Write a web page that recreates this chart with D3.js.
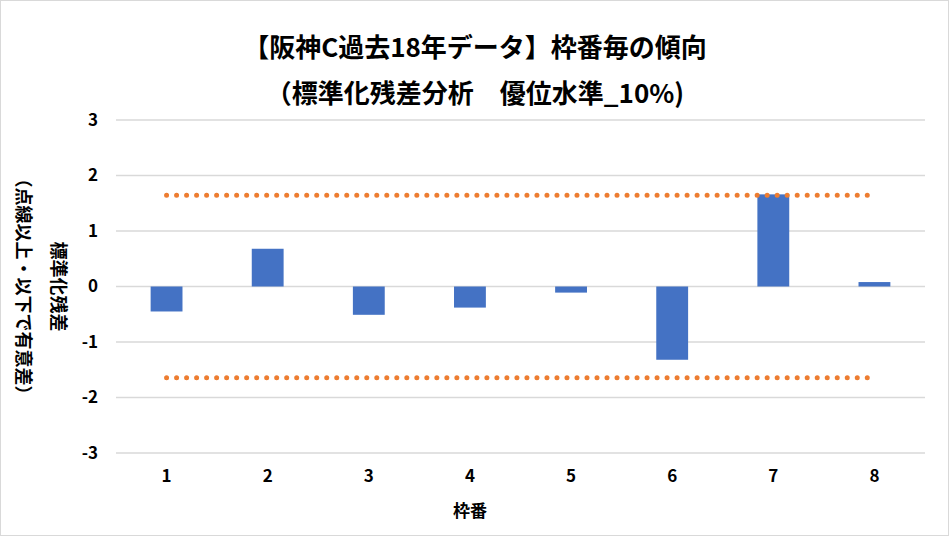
<!DOCTYPE html>
<html><head><meta charset="utf-8">
<script src="https://cdn.jsdelivr.net/npm/d3@7/dist/d3.min.js"></script>
<style>
html,body{margin:0;padding:0;background:#fff;}
svg{display:block;}
text{font-family:"Noto Sans CJK JP","Noto Sans",sans-serif;font-weight:bold;fill:#000;}
</style></head>
<body>
<script>
const categories = ["1","2","3","4","5","6","7","8"];
const residuals = [-0.45, 0.68, -0.51, -0.38, -0.11, -1.32, 1.66, 0.08];
const upperBound = [1.645,1.645,1.645,1.645,1.645,1.645,1.645,1.645];
const lowerBound = [-1.645,-1.645,-1.645,-1.645,-1.645,-1.645,-1.645,-1.645];
const yTicks = [3,2,1,0,-1,-2,-3];
const titleLines = ["【阪神C過去18年データ】枠番毎の傾向","（標準化残差分析　優位水準_10%)"];
const yTitleLines = ["標準化残差","（点線以上・以下で有意差）"];
const xTitle = "枠番";

const W = 949, H = 536;
const m = {left:116, right:24, top:120, bottom:83};
const svg = d3.select("body").append("svg").attr("width",W).attr("height",H);
svg.append("rect").attr("x",0.5).attr("y",0.5).attr("width",W-1).attr("height",H-1)
  .attr("fill","#fff").attr("stroke","#d9d9d9").attr("stroke-width",1);

const x = d3.scaleBand().domain(categories).range([m.left, W-m.right]).paddingInner(0.685).paddingOuter(0.3425);
const y = d3.scaleLinear().domain([-3,3]).range([H-m.bottom, m.top]);

// gridlines
svg.append("g").selectAll("line").data(yTicks).join("line")
  .attr("x1",m.left).attr("x2",W-m.right)
  .attr("y1",d=>y(d)).attr("y2",d=>y(d))
  .attr("stroke","#d9d9d9").attr("stroke-width",1.5);

// y axis labels
const yAxis = d3.axisLeft(y).tickValues(yTicks).tickSize(0).tickPadding(18).tickFormat(d=>String(d));
const ga = svg.append("g").attr("transform",`translate(${m.left},0)`).call(yAxis);
ga.select(".domain").remove();
ga.attr("font-size",17);
ga.selectAll("text").style("font-size","17px").style("font-family",'"Noto Sans CJK JP",sans-serif').style("font-weight","bold");

// x axis labels
const xAxis = d3.axisBottom(x).tickSize(0).tickPadding(17);
const gx = svg.append("g").attr("transform",`translate(0,${H-m.bottom})`).call(xAxis);
gx.select(".domain").remove();
gx.attr("font-size",17);
gx.selectAll("text").style("font-size","17px").style("font-family",'"Noto Sans CJK JP",sans-serif').style("font-weight","bold");

// bars
svg.append("g").selectAll("rect").data(residuals).join("rect")
  .attr("x",(d,i)=>x(categories[i]))
  .attr("width",x.bandwidth())
  .attr("y",d=>y(Math.max(0,d)))
  .attr("height",d=>Math.abs(y(d)-y(0)))
  .attr("fill","#4472c4");

// dotted bounds
const line = d3.line().x((d,i)=>x(categories[i])+x.bandwidth()/2).y(d=>y(d));
[upperBound, lowerBound].forEach(arr=>{
  svg.append("path").datum(arr).attr("d",line)
    .attr("fill","none").attr("stroke","#ed7d31").attr("stroke-width",5)
    .attr("stroke-linecap","round").attr("stroke-dasharray","0.01 10");
});

// titles
svg.append("text").attr("x",475).attr("y",57).attr("text-anchor","middle")
  .style("font-size","26px").text(titleLines[0]);
svg.append("text").attr("x",475).attr("y",103).attr("text-anchor","middle")
  .style("font-size","26px").text(titleLines[1]);

// y title (rotated clockwise)
const cy = (y(3)+y(-3))/2;
svg.append("text").attr("transform",`translate(52,${cy}) rotate(90)`).attr("text-anchor","middle")
  .style("font-size","18px").text(yTitleLines[0]);
svg.append("text").attr("transform",`translate(17,${cy}) rotate(90)`).attr("text-anchor","middle")
  .style("font-size","18px").text(yTitleLines[1]);

// x title
svg.append("text").attr("x",470).attr("y",517).attr("text-anchor","middle")
  .style("font-size","17px").text(xTitle);
</script>
</body></html>
